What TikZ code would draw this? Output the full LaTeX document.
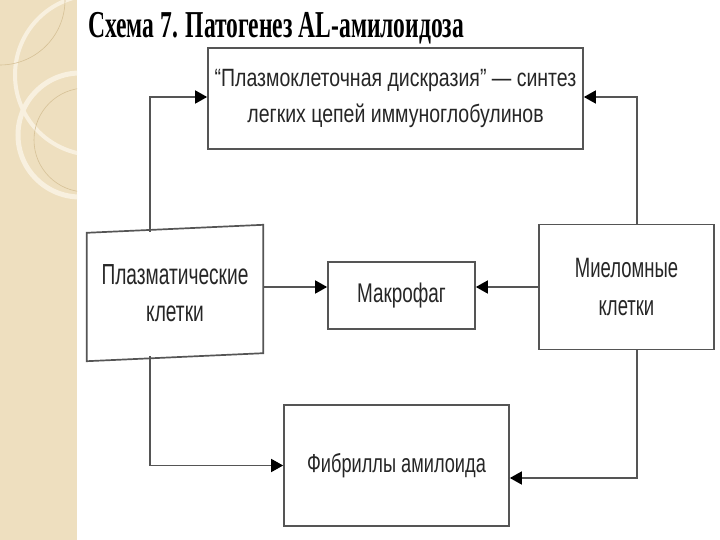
\documentclass[tikz,border=0pt]{standalone}
\usepackage{fontspec}
\setmainfont{Liberation Sans}
\newfontfamily\titlefont{Liberation Serif}
\newfontfamily\narA[FakeStretch=0.78]{Liberation Sans}
\newfontfamily\narB[FakeStretch=0.66]{Liberation Sans}
\newfontfamily\narC[FakeStretch=0.7]{Liberation Sans}
\usetikzlibrary{arrows.meta,calc}
\definecolor{beige}{HTML}{EEDFBF}
\definecolor{beigelight}{HTML}{F8F0DF}
\definecolor{beigedark}{HTML}{D6C197}
\definecolor{boxline}{HTML}{555555}
\definecolor{txt}{HTML}{262626}
\begin{document}
\begin{tikzpicture}[x=1pt,y=-1pt,
  box/.style={draw=boxline, line width=1.7pt, inner sep=0pt, align=center, text=txt},
  arr/.style={draw=boxline, line width=1.6pt, -{Triangle[length=12pt,width=13pt,fill=black,color=black]}}]
\useasboundingbox (0,0) rectangle (720,540);
\fill[white] (0,0) rectangle (720,540);
\fill[beige] (0,0) rectangle (77,540);
\begin{scope}
  \clip (0,0) rectangle (77,540);
  \draw[beigelight, line width=4pt] (95,75) circle[radius=80];
  \draw[beigedark, line width=0.6pt] (0,0) circle[radius=65];
  \draw[beigelight, line width=5pt] (80,135) circle[radius=62];
  \draw[beigedark, line width=0.6pt] (86,140) circle[radius=52];
\end{scope}

\node[anchor=base west, inner sep=0pt] (title) at (88,38)
  {\scalebox{0.62}[1]{\titlefont\bfseries\fontsize{38}{40}\selectfont Схема 7. Патогенез AL-амилоидоза}};

\node[box, minimum width=375, minimum height=101, font=\narA\fontsize{25}{36}\selectfont] (top) at (395.5,98.5)
  {“Плазмоклеточная дискразия” — синтез\\легких цепей иммуноглобулинов};

\node[inner sep=0pt, minimum width=176, minimum height=132, align=center, text=txt, font=\narB\fontsize{29}{37}\selectfont] (pl) at (175,293)
  {Плазматические\\клетки};
\draw[boxline, line width=1.7pt, line join=miter]
  ([yshift=-6pt]pl.north west) -- ([yshift=2pt]pl.north east) -- ([yshift=6pt]pl.south east) -- ([yshift=-2pt]pl.south west) -- cycle;

\node[box, minimum width=147, minimum height=67, font=\narC\fontsize{27}{34}\selectfont] (mf) at (401.5,295.5) {Макрофаг};

\node[box, minimum width=175, minimum height=125, font=\narB\fontsize{28}{38}\selectfont] (mc) at (626.5,287)
  {Миеломные\\клетки};

\node[box, minimum width=225, minimum height=121, font=\narC\fontsize{26}{34}\selectfont] (fb) at (396.5,465.5) {Фибриллы амилоида};

\coordinate (ay) at (0,287);
\draw[arr] ([xshift=63pt,yshift=-5pt]pl.north west) |- ([yshift=1.5pt]top.west);
\draw[arr] ([xshift=10.5pt]mc.north) |- ([yshift=1.5pt]top.east);
\draw[arr] (pl.east |- ay) -- (mf.west |- ay);
\draw[arr] (mc.west |- ay) -- (mf.east |- ay);
\draw[arr] ([xshift=63pt,yshift=3pt]pl.south west) |- (fb.west);
\draw[arr] ([xshift=10.5pt]mc.south) |- ([yshift=-12.5pt]fb.east);
\end{tikzpicture}
\end{document}
